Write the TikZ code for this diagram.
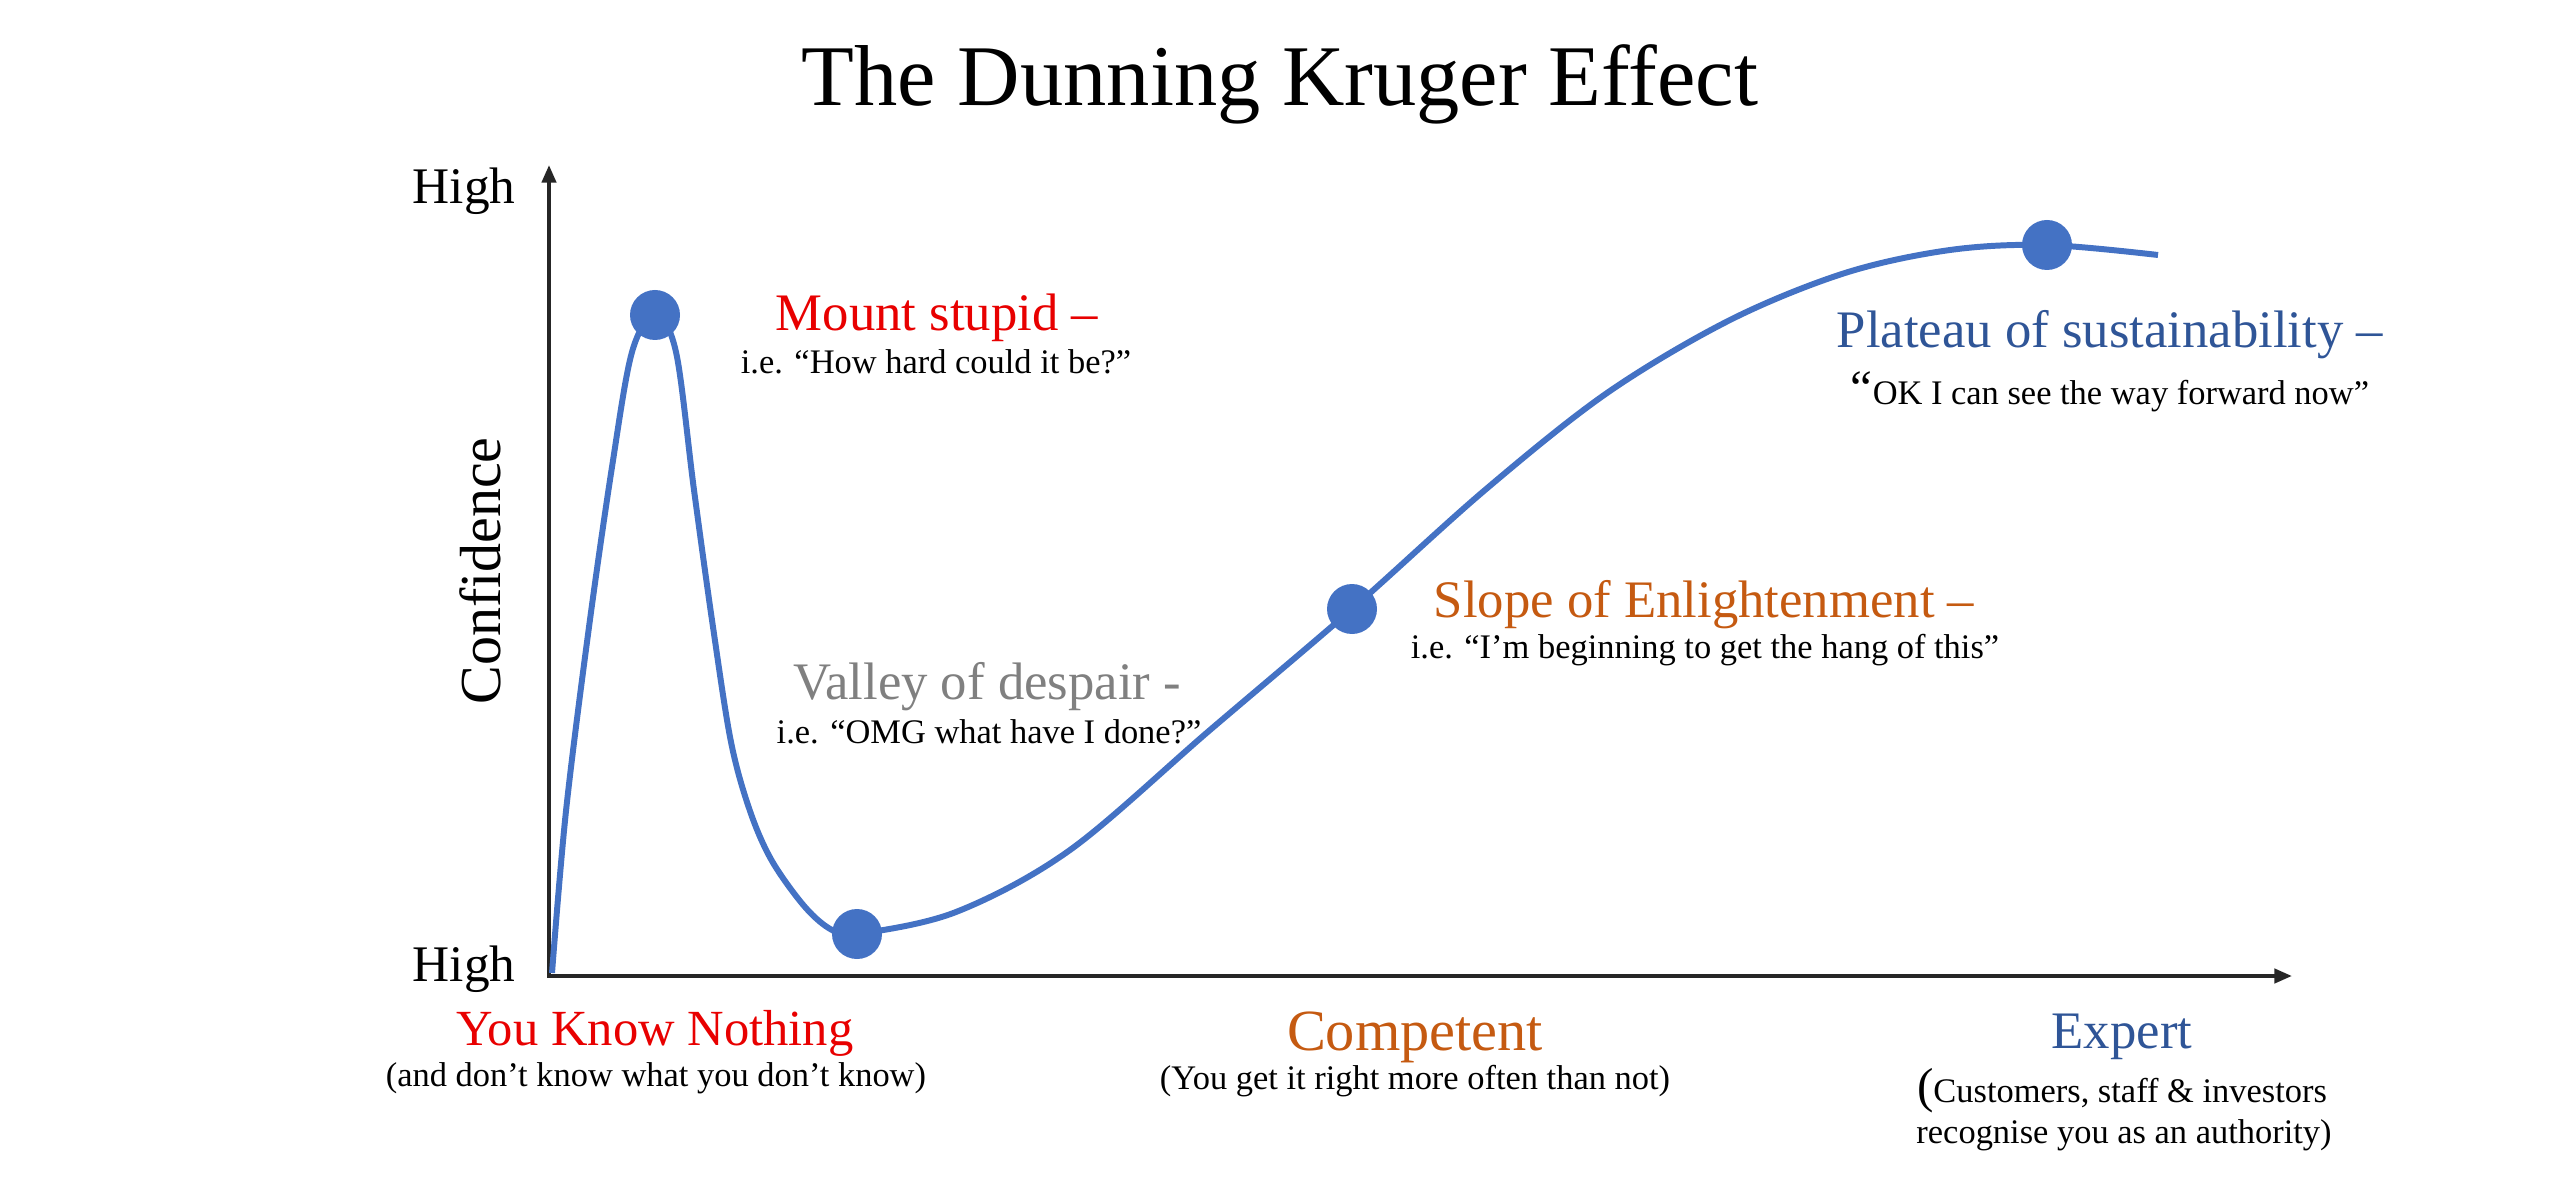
\documentclass[tikz,border=0pt]{standalone}
\usepackage{fontspec}
\setmainfont{Liberation Serif}
\usetikzlibrary{arrows.meta}
\definecolor{curveblue}{RGB}{68, 114, 196}
\definecolor{axisgray}{RGB}{38, 38, 38}
\definecolor{stupidred}{RGB}{232, 0, 0}
\definecolor{despairgray}{RGB}{128, 128, 128}
\definecolor{slopeorange}{RGB}{197, 90, 17}
\definecolor{plateaublue}{RGB}{47, 85, 151}

\tikzset{
	stage/.style={font=\fontsize{15}{18}\selectfont, anchor=base, inner sep=0pt},
	saying/.style={font=\fontsize{9.8}{12}\selectfont, anchor=base, inner sep=0pt},
	stagedot/.style={circle, fill=curveblue, minimum size=5mm, inner sep=0pt},
	axisline/.style={draw=axisgray, line width=1.1pt},
}

\begin{document}
\begin{tikzpicture}
		\useasboundingbox (0,0) rectangle (25.6,11.77);

		\node[anchor=base, inner sep=0pt, font=\fontsize{24.6}{28}\selectfont] (title) at (12.80,10.71) {The Dunning Kruger Effect};

		% axes
		\coordinate (origin) at (5.49,2.01);
		\coordinate (ytip) at (5.49,10.12);
		\coordinate (xtip) at (22.92,2.01);
		\draw[axisline, {Triangle[length=5pt,width=4pt]}-{Triangle[length=5pt,width=4pt]}] (ytip) -- (origin) -- (xtip);
		\node[stage, font=\fontsize{14.6}{18}\selectfont] (hightop) at (4.64,9.73) {High};
		\node[stage, font=\fontsize{14.6}{18}\selectfont] (highbot) at (4.64,1.96) {High};
		\node[rotate=90, inner sep=0pt, font=\fontsize{16.5}{20}\selectfont] (conf) at (4.80,6.06) {Confidence};

		% curve
		\coordinate (mount) at (6.55,8.62);
		\coordinate (valley) at (8.57,2.43);
		\coordinate (slope) at (13.52,5.68);
		\coordinate (plateau) at (20.47,9.32);
		\draw[curveblue, line width=1.7pt] plot[smooth, tension=0.55] coordinates {(5.52,2.04) (5.66,3.66) (5.89,5.50) (6.12,7.10) (6.32,8.25) (mount) (6.76,8.25) (6.94,6.87) (7.13,5.50) (7.31,4.35) (7.50,3.66) (7.72,3.16) (8.05,2.70) (8.32,2.47) (valley) (9.56,2.65) (10.70,3.27) (12.10,4.47) (slope) (14.85,6.87) (16.07,7.84) (17.30,8.57) (18.45,9.04) (19.50,9.27) (plateau) (21.58,9.22)};
		\node[stagedot] (mountdot) at (mount) {};
		\node[stagedot] (valleydot) at (valley) {};
		\node[stagedot] (slopedot) at (slope) {};
		\node[stagedot] (plateaudot) at (plateau) {};

		% stages
		\node[stage, text=stupidred] (mountlbl) at (9.37,8.46) {Mount stupid --};
		\node[saying] (mountsay) at (9.36,8.03) {i.e. “How hard could it be?”};
		\node[stage, text=despairgray] (valleylbl) at (9.87,4.78) {Valley of despair -};
		\node[saying] (valleysay) at (9.89,4.34) {i.e. “OMG what have I done?”};
		\node[stage, text=slopeorange] (slopelbl) at (17.04,5.60) {Slope of Enlightenment --};
		\node[saying] (slopesay) at (17.05,5.19) {i.e. “I’m beginning to get the hang of this”};
		\node[stage, text=plateaublue] (plateaulbl) at (21.10,8.29) {Plateau of sustainability --};
		\node[saying] (plateausay) at (21.10,7.72) {{\fontsize{14}{14}\selectfont “}OK I can see the way forward now”};

		% skill levels
		\node[stage, font=\fontsize{14.4}{18}\selectfont, text=stupidred] (nothing) at (6.55,1.32) {You Know Nothing};
		\node[saying] (nothingsay) at (6.56,0.91) {(and don’t know what you don’t know)};
		\node[stage, font=\fontsize{16.6}{20}\selectfont, text=slopeorange] (competent) at (14.15,1.27) {Competent};
		\node[saying] (competentsay) at (14.15,0.88) {(You get it right more often than not)};
		\node[stage, text=plateaublue] (expert) at (21.22,1.29) {Expert};
		\node[saying] (expertsay) at (21.22,0.75) {{\fontsize{14}{14}\selectfont(}Customers, staff \& investors};
		\node[saying] (expertsaytwo) at (21.24,0.34) {recognise you as an authority)};
	\end{tikzpicture}
\end{document}
